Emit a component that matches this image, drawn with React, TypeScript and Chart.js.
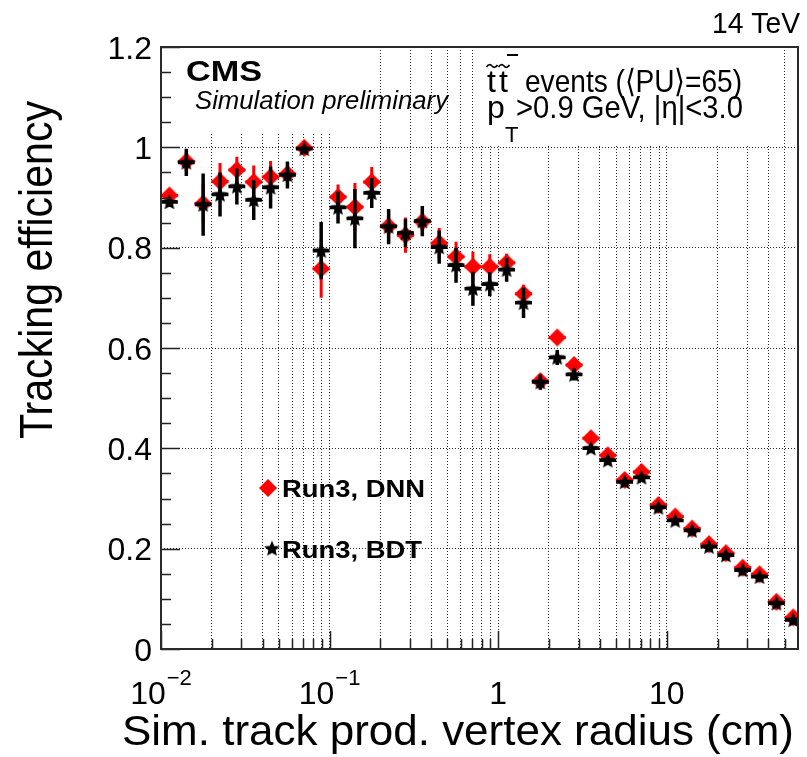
import React, { useEffect, useRef } from 'react';
import { Chart, registerables } from 'chart.js';

Chart.register(...registerables);

const FONT = '"Liberation Sans", Arial, Helvetica, sans-serif';

// ---- data ----
const BIN_CENTERS = [
  0.01122, 0.01413, 0.01778, 0.02239, 0.02818, 0.03548, 0.04467, 0.05623, 0.07079, 0.08913,
  0.1122, 0.1413, 0.1778, 0.2239, 0.2818, 0.3548, 0.4467, 0.5623, 0.7079, 0.8913,
  1.122, 1.413, 1.778, 2.239, 2.818, 3.548, 4.467, 5.623, 7.079, 8.913,
  11.22, 14.13, 17.78, 22.39, 28.18, 35.48, 44.67, 56.23,
];
const BIN_EDGES = [
  0.01, 0.01259, 0.01585, 0.01995, 0.02512, 0.03162, 0.03981, 0.05012, 0.0631, 0.07943,
  0.1, 0.1259, 0.1585, 0.1995, 0.2512, 0.3162, 0.3981, 0.5012, 0.631, 0.7943,
  1, 1.259, 1.585, 1.995, 2.512, 3.162, 3.981, 5.012, 6.31, 7.943,
  10, 12.59, 15.85, 19.95, 25.12, 31.62, 39.81, 50.12, 63.1,
];
const DNN_EFF = [
  0.904, 0.972, 0.888, 0.932, 0.955, 0.931, 0.941, 0.947, 0.999, 0.758,
  0.901, 0.881, 0.931, 0.843, 0.825, 0.852, 0.809, 0.782, 0.762, 0.762,
  0.770, 0.708, 0.534, 0.621, 0.566, 0.420, 0.386, 0.337, 0.353, 0.287,
  0.264, 0.240, 0.209, 0.191, 0.162, 0.149, 0.094, 0.063,
];
const DNN_ERR = [
  0.008, 0.02, 0.04, 0.037, 0.026, 0.033, 0.032, 0.022, 0.006, 0.058,
  0.025, 0.048, 0.03, 0.03, 0.035, 0.025, 0.03, 0.03, 0.03, 0.025,
  0.018, 0.018, 0.012, 0.012, 0.01, 0.008, 0.008, 0.007, 0.007, 0.006,
  0.006, 0.005, 0.005, 0.005, 0.005, 0.005, 0.005, 0.005,
];
const BDT_EFF = [
  0.891, 0.970, 0.886, 0.906, 0.922, 0.895, 0.920, 0.945, 0.997, 0.794,
  0.880, 0.858, 0.909, 0.842, 0.829, 0.853, 0.801, 0.765, 0.718, 0.727,
  0.756, 0.690, 0.532, 0.581, 0.547, 0.400, 0.376, 0.333, 0.342, 0.282,
  0.256, 0.236, 0.204, 0.187, 0.157, 0.144, 0.091, 0.058,
];
const BDT_ERR = [
  0.01, 0.027, 0.062, 0.044, 0.036, 0.04, 0.042, 0.027, 0.006, 0.057,
  0.032, 0.059, 0.03, 0.035, 0.028, 0.03, 0.033, 0.035, 0.034, 0.024,
  0.024, 0.03, 0.015, 0.015, 0.012, 0.008, 0.008, 0.007, 0.007, 0.006,
  0.006, 0.005, 0.005, 0.005, 0.005, 0.005, 0.005, 0.005,
];

const X_TICKS = [
  0.01, 0.02, 0.03, 0.04, 0.05, 0.06, 0.07, 0.08, 0.09,
  0.1, 0.2, 0.3, 0.4, 0.5, 0.6, 0.7, 0.8, 0.9,
  1, 2, 3, 4, 5, 6, 7, 8, 9,
  10, 20, 30, 40, 50,
];
const X_LABEL_VALUES = [0.01, 0.1, 1, 10];
const X_LABEL_BASE = ['10', '10', '1', '10'];
const X_LABEL_EXP = ['\u22122', '\u22121', '', ''];
const Y_TICK_VALUES = [0, 0.2, 0.4, 0.6, 0.8, 1, 1.2];
const Y_TICK_LABELS = ['0', '0.2', '0.4', '0.6', '0.8', '1', '1.2'];
const Y_MINOR_STEP = 0.05;

const SERIES_LABELS = ['Run3, DNN', 'Run3, BDT'];
const X_TITLE = 'Sim. track prod. vertex radius (cm)';
const Y_TITLE = 'Tracking efficiency';

// ---- marker images ----
function makeDiamond(): HTMLCanvasElement {
  const c = document.createElement('canvas');
  c.width = 20; c.height = 20;
  const g = c.getContext('2d')!;
  g.fillStyle = '#ff0000';
  g.beginPath();
  g.moveTo(10, 1); g.lineTo(19, 10); g.lineTo(10, 19); g.lineTo(1, 10); g.closePath();
  g.fill();
  return c;
}
function makeStar(): HTMLCanvasElement {
  const c = document.createElement('canvas');
  c.width = 18; c.height = 18;
  const g = c.getContext('2d')!;
  g.fillStyle = '#000';
  g.beginPath();
  for (let i = 0; i < 10; i++) {
    const r = i % 2 === 0 ? 8.3 : 3.8;
    const a = -Math.PI / 2 + (i * Math.PI) / 5;
    const px = 9 + r * Math.cos(a), py = 9.6 + r * Math.sin(a);
    if (i === 0) g.moveTo(px, py); else g.lineTo(px, py);
  }
  g.closePath();
  g.fill();
  return c;
}

function drawText(
  ctx: CanvasRenderingContext2D, s: string, x: number, y: number, font: string,
  align: 'left' | 'right' | 'center' = 'left', width?: number,
) {
  ctx.save();
  ctx.font = font;
  ctx.textBaseline = 'alphabetic';
  ctx.textAlign = 'left';
  const w = ctx.measureText(s).width;
  const sx = width ? width / w : 1;
  const dw = w * sx;
  const x0 = align === 'left' ? x : align === 'right' ? x - dw : x - dw / 2;
  ctx.translate(x0, y);
  ctx.scale(sx, 1);
  ctx.fillStyle = '#000';
  ctx.fillText(s, 0, 0);
  ctx.restore();
  return dw;
}

function drawTilde(ctx: CanvasRenderingContext2D, cx: number, cy: number, w: number) {
  const x0 = cx - w / 2;
  ctx.beginPath();
  ctx.moveTo(x0, cy + 1);
  ctx.quadraticCurveTo(x0 + w / 4, cy - 3, x0 + w / 2, cy);
  ctx.quadraticCurveTo(x0 + (3 * w) / 4, cy + 3, x0 + w, cy - 1);
  ctx.stroke();
}

const overlayPlugin = {
  id: 'overlay',
  beforeDatasetsDraw(chart: any) {
    const { ctx, chartArea: a } = chart;
    ctx.save();
    ctx.fillStyle = '#fff';
    // white label boxes that hide the grid
    ctx.fillRect(a.left + 1, a.top + 1, 190, 86);
    ctx.fillRect(478, a.top + 1, 292, 96);
    ctx.restore();
  },
  beforeDatasetDraw(chart: any, args: any) {
    const ds = chart.data.datasets[args.index];
    const { ctx, chartArea: a } = chart;
    const xs = chart.scales.x, ys = chart.scales.y;
    ctx.save();
    ctx.beginPath();
    ctx.rect(a.left, a.top, a.right - a.left, a.bottom - a.top);
    ctx.clip();
    ctx.strokeStyle = ds.errColor;
    ctx.lineWidth = ds.errWidth;
    ds.data.forEach((p: any, i: number) => {
      const px = xs.getPixelForValue(p.x);
      const py = ys.getPixelForValue(p.y);
      const y1 = ys.getPixelForValue(p.y - ds.yErr[i]);
      const y2 = ys.getPixelForValue(p.y + ds.yErr[i]);
      const x1 = xs.getPixelForValue(ds.xLow[i]);
      const x2 = xs.getPixelForValue(ds.xHigh[i]);
      ctx.beginPath();
      ctx.moveTo(px, y1); ctx.lineTo(px, y2);
      ctx.moveTo(x1, py); ctx.lineTo(x2, py);
      ctx.stroke();
    });
    ctx.restore();
  },
  afterDraw(chart: any) {
    const { ctx, chartArea: a } = chart;
    const xs = chart.scales.x, ys = chart.scales.y;
    ctx.save();
    // ticks (inside)
    ctx.strokeStyle = '#222';
    ctx.lineWidth = 1.5;
    ctx.beginPath();
    X_TICKS.forEach((v) => {
      const px = Math.round(xs.getPixelForValue(v)) + 0.5;
      const len = X_LABEL_VALUES.includes(v) ? 18 : 10;
      ctx.moveTo(px, a.bottom); ctx.lineTo(px, a.bottom - len);
    });
    const nMinor = Math.round(1.2 / Y_MINOR_STEP);
    for (let i = 0; i <= nMinor; i++) {
      const py = Math.round(ys.getPixelForValue(i * Y_MINOR_STEP)) + 0.5;
      const len = i % 4 === 0 ? 19 : 10;
      ctx.moveTo(a.left, py); ctx.lineTo(a.left + len, py);
    }
    ctx.stroke();
    // frame
    ctx.strokeStyle = '#2a2a2a';
    ctx.lineWidth = 2;
    ctx.strokeRect(a.left, a.top, a.right - a.left, a.bottom - a.top);

    // y tick labels
    Y_TICK_VALUES.forEach((v, i) => {
      const py = ys.getPixelForValue(v);
      drawText(ctx, Y_TICK_LABELS[i], a.left - 9, py + 11.5, `32px ${FONT}`, 'right');
    });
    // x tick labels
    X_LABEL_VALUES.forEach((v, i) => {
      const px = xs.getPixelForValue(v);
      ctx.font = `32px ${FONT}`;
      const wb = ctx.measureText(X_LABEL_BASE[i]).width;
      ctx.font = `22px ${FONT}`;
      const we = X_LABEL_EXP[i] ? ctx.measureText(X_LABEL_EXP[i]).width + 1 : 0;
      const x0 = px - (wb + we) / 2;
      drawText(ctx, X_LABEL_BASE[i], x0, a.bottom + 55, `32px ${FONT}`);
      if (X_LABEL_EXP[i]) drawText(ctx, X_LABEL_EXP[i], x0 + wb + 1, a.bottom + 36, `22px ${FONT}`);
    });
    // axis titles
    drawText(ctx, X_TITLE, a.right - 4, a.bottom + 96, `42px ${FONT}`, 'right', 672);
    ctx.save();
    ctx.translate(52, 101);
    ctx.scale(1.15, 1);
    ctx.rotate(-Math.PI / 2);
    ctx.font = `40px ${FONT}`;
    const wy = ctx.measureText(Y_TITLE).width;
    ctx.scale(338 / wy, 1);
    ctx.textAlign = 'right';
    ctx.textBaseline = 'alphabetic';
    ctx.fillStyle = '#000';
    ctx.fillText(Y_TITLE, 0, 0);
    ctx.restore();

    // annotations
    drawText(ctx, '14 TeV', 800, 33, `29px ${FONT}`, 'right', 88);
    drawText(ctx, 'CMS', 186, 81, `bold 29px ${FONT}`, 'left', 76);
    drawText(ctx, 'Simulation preliminary', 195, 109, `italic 25px ${FONT}`, 'left', 253);

    // process label
    drawText(ctx, 't', 487, 92, `32px ${FONT}`);
    drawText(ctx, 't', 499, 92, `32px ${FONT}`);
    ctx.strokeStyle = '#000';
    ctx.lineWidth = 1.7;
    drawTilde(ctx, 492, 66, 11);
    drawTilde(ctx, 504, 66, 11);
    ctx.lineWidth = 2;
    ctx.beginPath(); ctx.moveTo(507, 55); ctx.lineTo(518, 55); ctx.stroke();
    drawText(ctx, 'events (\u27E8PU\u27E9=65)', 525, 92, `32px ${FONT}`, 'left', 217);
    drawText(ctx, 'p', 487, 118, `32px ${FONT}`);
    drawText(ctx, 'T', 505, 142, `22px ${FONT}`);
    drawText(ctx, '>0.9 GeV, |\u03B7|<3.0', 516, 118, `32px ${FONT}`, 'left', 227);

    // legend
    const dn = chart.data.datasets[1];
    const bd = chart.data.datasets[0];
    ctx.drawImage(dn.pointStyle, 268 - 10, 488 - 10);
    ctx.drawImage(bd.pointStyle, 272 - 9, 549 - 9.6);
    drawText(ctx, SERIES_LABELS[0], 282, 497, `bold 24px ${FONT}`, 'left', 143);
    drawText(ctx, SERIES_LABELS[1], 282, 558, `bold 24px ${FONT}`, 'left', 140);
    ctx.restore();
  },
};

export default function App() {
  const ref = useRef<HTMLCanvasElement>(null);
  useEffect(() => {
    document.body.style.margin = '0';
    const canvas = ref.current!;
    const diamond = makeDiamond();
    const star = makeStar();
    const xLow = BIN_EDGES.slice(0, BIN_CENTERS.length);
    const xHigh = BIN_EDGES.slice(1, BIN_CENTERS.length + 1);
    const gridOpts = { color: 'rgba(0,0,0,0.85)', lineWidth: 1, drawTicks: false };
    const chart = new Chart(canvas, {
      type: 'scatter',
      data: {
        datasets: [
          {
            label: SERIES_LABELS[1],
            data: BIN_CENTERS.map((x, i) => ({ x, y: BDT_EFF[i] })),
            pointStyle: star as any,
            pointRadius: 8,
            order: 1,
            yErr: BDT_ERR, xLow, xHigh, errColor: '#000', errWidth: 3.5,
          } as any,
          {
            label: SERIES_LABELS[0],
            data: BIN_CENTERS.map((x, i) => ({ x, y: DNN_EFF[i] })),
            pointStyle: diamond as any,
            pointRadius: 8,
            order: 2,
            yErr: DNN_ERR, xLow, xHigh, errColor: '#ff0000', errWidth: 3,
          } as any,
        ],
      },
      options: {
        animation: false,
        responsive: false,
        devicePixelRatio: 1,
        layout: { padding: { left: 0, right: 3, top: 47, bottom: 0 } },
        plugins: { legend: { display: false }, tooltip: { enabled: false } },
        scales: {
          x: {
            type: 'logarithmic',
            min: 0.01,
            max: 60,
            afterBuildTicks: (s: any) => { s.ticks = X_TICKS.map((v) => ({ value: v })); },
            afterFit: (s: any) => { s.height = 108; },
            ticks: { display: false },
            grid: gridOpts,
            border: { display: false, dash: [1, 2] },
          },
          y: {
            type: 'linear',
            min: 0,
            max: 1.2,
            afterBuildTicks: (s: any) => { s.ticks = Y_TICK_VALUES.map((v) => ({ value: v })); },
            afterFit: (s: any) => { s.width = 161; },
            ticks: { display: false },
            grid: gridOpts,
            border: { display: false, dash: [1, 2] },
          },
        },
      } as any,
      plugins: [overlayPlugin as any],
    });
    return () => chart.destroy();
  }, []);
  return (
    <div style={{ width: 807, height: 757 }}>
      <canvas ref={ref} width={807} height={757} style={{ display: 'block', width: 807, height: 757 }} />
    </div>
  );
}
